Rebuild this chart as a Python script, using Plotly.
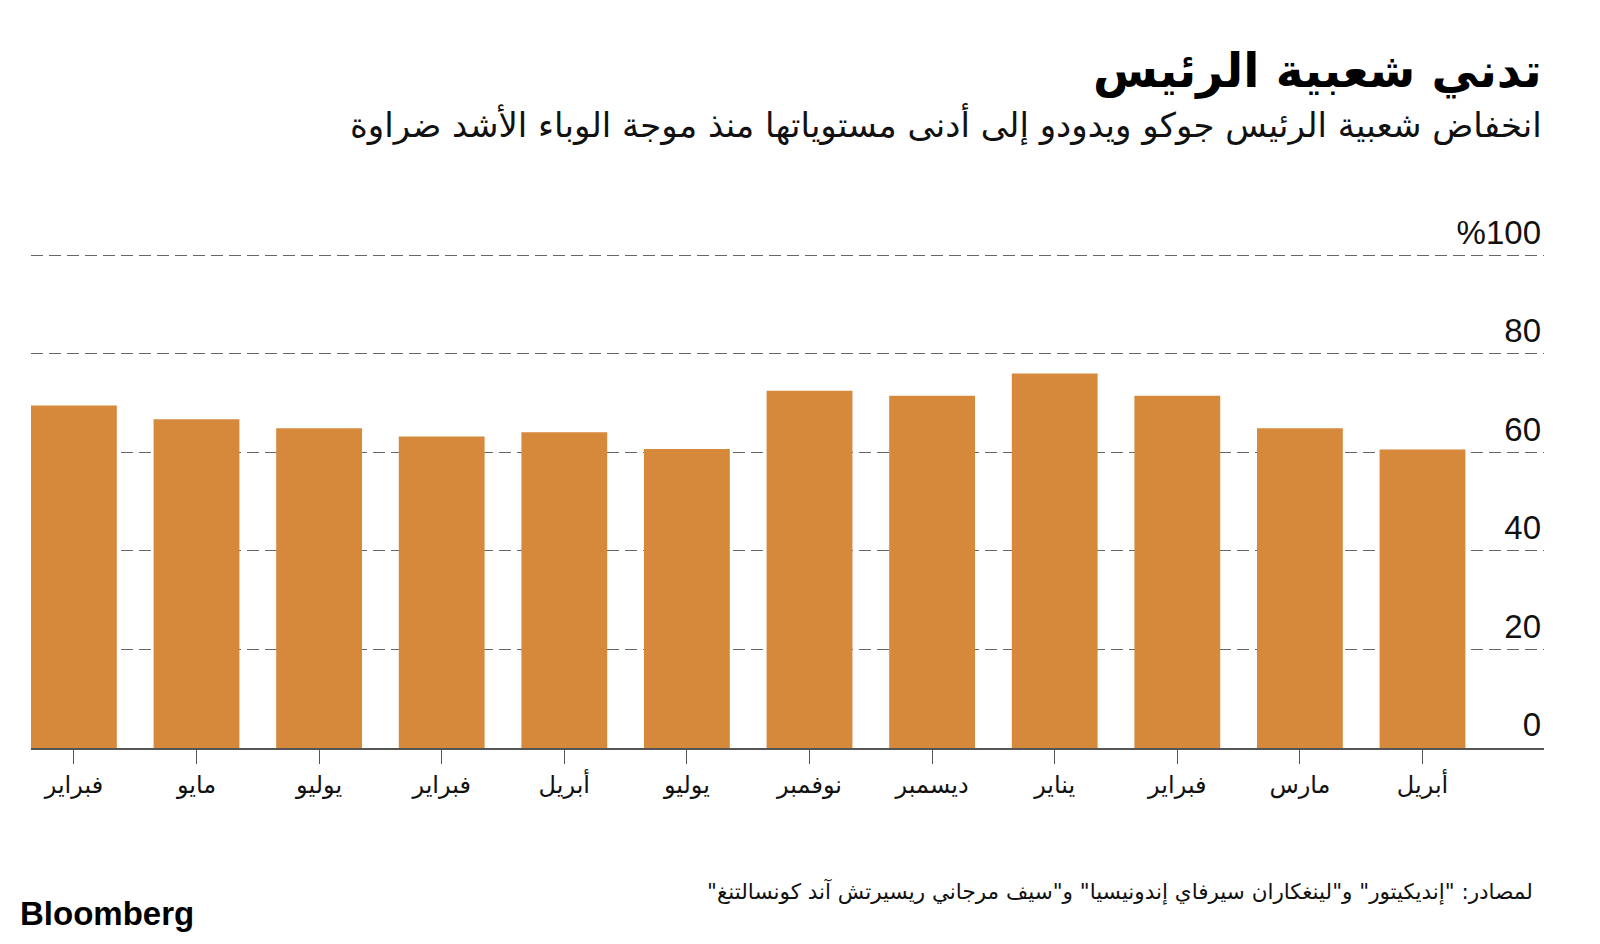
import plotly.graph_objects as go

months = ["فبراير", "مايو", "يوليو", "فبراير", "أبريل", "يوليو",
          "نوفمبر", "ديسمبر", "يناير", "فبراير", "مارس", "أبريل"]
approval = [69.5, 66.7, 64.9, 63.2, 64.1, 60.7, 72.5, 71.5, 76.0, 71.5, 64.9, 60.6]
y_tickvals = [0, 20, 40, 60, 80, 100]
y_ticktext = ["0", "20", "40", "60", "80", "%100"]

title = "تدني شعبية الرئيس"
subtitle = "انخفاض شعبية الرئيس جوكو ويدودو إلى أدنى مستوياتها منذ موجة الوباء الأشد ضراوة"
source = "\u200fلمصادر: \"إنديكيتور\" و\"لينغكاران سيرفاي إندونيسيا\" و\"سيف مرجاني ريسيرتش آند كونسالتنغ\"\u200f"

AR = "DejaVu Sans"
LAT = "Liberation Sans"
BAR = "#D6893A"

x_idx = list(range(len(months)))

OFF = 8  # page offset of the figure in the browser window
PX_PER_UNIT = 4.93
Y0 = 748 - OFF          # pixel of value 0 inside the figure
YMAX = 110
TOP = Y0 - PX_PER_UNIT * YMAX

L = 31 - OFF
R = 1600 - (1544 - OFF)
T = int(round(TOP))
B = 944 - Y0
PW = 1600 - L - R
PH = Y0 - T
XMAX = -0.35 + PW / 122.6

fig = go.Figure(go.Bar(x=x_idx, y=approval, marker=dict(color=BAR, line=dict(width=0)),
                       hoverinfo="skip"))

fig.update_layout(
    width=1600, height=944,
    margin=dict(l=L, r=R, t=T, b=B, pad=0),
    paper_bgcolor="white", plot_bgcolor="white",
    bargap=0.3, showlegend=False,
    xaxis=dict(
        range=[-0.35, XMAX], tickmode="array", tickvals=x_idx, ticktext=months,
        showgrid=False, zeroline=False, showline=True, linecolor="#555", linewidth=2,
        ticks="outside", ticklen=14, tickcolor="#555", tickwidth=1,
        tickfont=dict(family=AR, size=24, color="#111"), fixedrange=True,
    ),
    yaxis=dict(
        range=[0, YMAX], tickmode="array", tickvals=y_tickvals, ticktext=y_ticktext,
        side="right", ticklabelposition="inside top",
        showgrid=True, gridcolor="#666", griddash="12px,6px", gridwidth=1,
        zeroline=False, showline=False, ticks="",
        tickfont=dict(family=LAT, size=33, color="#111"), fixedrange=True,
    ),
)

def py(p):
    return (Y0 - (p - OFF)) / PH

def px(p):
    return (p - OFF - L) / PW

anns = [
    dict(text="<b>" + title + "</b>", x=1.0, xanchor="right", y=py(71), yanchor="middle",
         font=dict(family=AR, size=47, color="#000")),
    dict(text=subtitle, x=1.0, xanchor="right", y=py(124), yanchor="middle",
         font=dict(family=AR, size=34, color="#111")),
    dict(text=source, x=px(1535), xanchor="right", y=py(891), yanchor="middle",
         font=dict(family=AR, size=21.5, color="#111")),
    dict(text="<b>Bloomberg</b>", x=px(18), xanchor="left", y=py(913), yanchor="middle",
         font=dict(family=LAT, size=33, color="#000")),
]
for a in anns:
    a.update(xref="paper", yref="paper", showarrow=False)
fig.update_layout(annotations=anns)

fig.write_html("out.html")
